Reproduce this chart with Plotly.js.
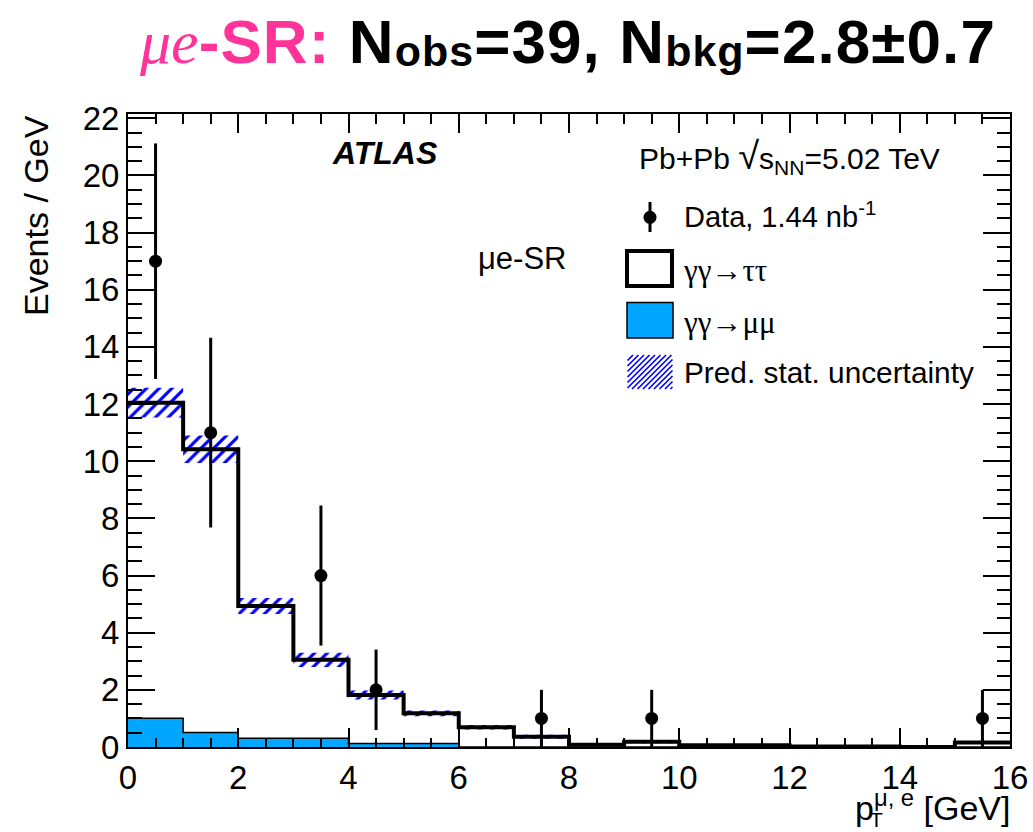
<!DOCTYPE html>
<html>
<head>
<meta charset="utf-8">
<script src="https://cdn.plot.ly/plotly-3.0.1.min.js"></script>
<style>
  html, body { margin: 0; padding: 0; background: #fff; }
  #chart { width: 1033px; height: 832px; }
</style>
</head>
<body>
<div id="chart"></div>
<script>
// ---- data ----
var binEdges = [0, 1, 2, 3, 4, 5, 6, 7, 8, 9, 10, 12, 14, 15, 16];
var tautau   = [11.04, 9.91, 4.62, 2.74, 1.70, 1.06, 0.69, 0.36, 0.08, 0.18, 0.06, 0.02, 0.0, 0.16];
var mumu     = [1.01, 0.51, 0.31, 0.31, 0.12, 0.12, 0.0, 0.0, 0.0, 0.0, 0.0, 0.0, 0.0, 0.0];
var predErr  = [0.52, 0.48, 0.28, 0.25, 0.16, 0.10, 0.08, 0.07, 0.03, 0.05, 0.03, 0.02, 0.0, 0.05];
var dataX    = [0.5, 1.5, 3.5, 4.5, 7.5, 9.5, 15.5];
var dataY    = [17, 11, 6, 2, 1, 1, 1];
var dataErr  = [4.12, 3.32, 2.45, 1.41, 1.0, 1.0, 1.0];
var xTickVals = [0, 2, 4, 6, 8, 10, 12, 14, 16];
var yTickVals = [0, 2, 4, 6, 8, 10, 12, 14, 16, 18, 20, 22];

// ---- derived ----
var nb = tautau.length;
var centers = [], widths = [], total = [], hatchBase = [], hatchH = [];
for (var i = 0; i < nb; i++) {
  centers.push((binEdges[i] + binEdges[i + 1]) / 2);
  widths.push(binEdges[i + 1] - binEdges[i]);
  total.push(tautau[i] + mumu[i]);
  hatchBase.push(total[i] - predErr[i]);
  hatchH.push(2 * predErr[i]);
}
var totalStep = total.concat([total[nb - 1]]);
var mumuStep = mumu.concat([mumu[nb - 1]]);

// ---- pixel helpers for decorations (plot area 128..1010 x 114..747) ----
var L = 128, R = 1010, T = 114, B = 747;
function px(x) { return (x - L) / (R - L); }
function py(y) { return (B - y) / (B - T); }

var FONT = 'Liberation Sans, Arial, Helvetica, sans-serif';
var SERIF = 'Liberation Serif, DejaVu Serif, serif';
var BLUE = '#00a6ff';
var HATCH = '#0000ff';
var PINK = '#ff3399';

var traces = [
  { // hatched prediction uncertainty
    type: 'bar', x: centers, y: hatchH, base: hatchBase, width: widths,
    marker: { color: 'rgba(0,0,0,0)', line: { width: 0 },
      pattern: { shape: '/', fgcolor: HATCH, fgopacity: 1, bgcolor: 'rgba(0,0,0,0)', size: 9, solidity: 0.35, fillmode: 'overlay' } },
    hoverinfo: 'skip', showlegend: false
  },
  { // gamma gamma -> mu mu
    type: 'scatter', mode: 'lines', x: binEdges, y: mumuStep,
    line: { shape: 'hv', color: '#000', width: 1.5 },
    fill: 'tozeroy', fillcolor: BLUE, showlegend: false
  },
  { // total prediction outline (tautau stacked on mumu)
    type: 'scatter', mode: 'lines', x: binEdges, y: totalStep,
    line: { shape: 'hv', color: '#000', width: 4 }, showlegend: false
  },
  { // data
    type: 'scatter', mode: 'markers', x: dataX, y: dataY,
    marker: { color: '#000', size: 13, symbol: 'circle' },
    error_y: { type: 'data', array: dataErr, symmetric: true, color: '#000', thickness: 3, width: 0 },
    showlegend: false
  }
];

// legend hatch lines
function hatchPath(x0, y0, x1, y1, step) {
  var d = '';
  var w = x1 - x0, h = y1 - y0;
  for (var s = -h; s < w; s += step) {
    var ax = x0 + s, ay = y1, bx = x0 + s + h, by = y0;
    if (ax < x0) { ay = y1 - (x0 - ax); ax = x0; }
    if (bx > x1) { by = y0 + (bx - x1); bx = x1; }
    d += 'M' + px(ax).toFixed(5) + ',' + py(ay).toFixed(5) + 'L' + px(bx).toFixed(5) + ',' + py(by).toFixed(5);
  }
  return d;
}

var shapes = [
  { type: 'line', xref: 'paper', yref: 'paper', x0: px(650), x1: px(650), y0: py(202), y1: py(232), line: { color: '#000', width: 3 } },
  { type: 'circle', xref: 'paper', yref: 'paper', x0: px(643.5), x1: px(656.5), y0: py(210.8), y1: py(223.8), fillcolor: '#000', line: { color: '#000', width: 0 } },
  { type: 'rect', xref: 'paper', yref: 'paper', x0: px(627), x1: px(672), y0: py(251), y1: py(286), fillcolor: '#fff', line: { color: '#000', width: 4 } },
  { type: 'rect', xref: 'paper', yref: 'paper', x0: px(627), x1: px(673), y0: py(302.5), y1: py(338), fillcolor: BLUE, line: { color: '#000', width: 1.5 } },
  { type: 'path', xref: 'paper', yref: 'paper', path: hatchPath(627.5, 355, 672.5, 389, 5.5), line: { color: HATCH, width: 1.6 } }
];

function ann(text, x, y, opts) {
  var a = { text: text, xref: 'paper', yref: 'paper', x: px(x), y: py(y), showarrow: false,
    xanchor: 'left', yanchor: 'middle', borderpad: 0, font: { family: FONT, size: 29, color: '#000' } };
  for (var k in opts) a[k] = opts[k];
  return a;
}

var annotations = [
  ann('<b><i>ATLAS</i></b>', 331, 153, { font: { family: FONT, size: 32, color: '#000' } }),
  ann('Pb+Pb <span style="font-size:38px">√</span>s<sub>NN</sub>=5.02 TeV', 638, 157, { font: { family: FONT, size: 30, color: '#000' } }),
  ann('μe-SR', 477, 258, { font: { family: FONT, size: 31, color: '#000' } }),
  ann('Data, 1.44 nb<sup>-1</sup>', 683, 215),
  ann('γγ→ττ', 682, 270, { font: { family: SERIF, size: 31, color: '#000' } }),
  ann('γγ→μμ', 682, 322, { font: { family: SERIF, size: 31, color: '#000' } }),
  ann('Pred. stat. uncertainty', 683, 372, { font: { family: FONT, size: 29.8, color: '#000' } }),
  ann('Events / GeV', 36, 216, { xanchor: 'center', yanchor: 'middle', textangle: -90, font: { family: FONT, size: 34, color: '#000' } }),
  ann('p<sup>μ, e</sup> [GeV]', 1011, 805, { xanchor: 'right', font: { family: FONT, size: 34, color: '#000' } }),
  ann('T', 876, 832, { xanchor: 'center', yanchor: 'bottom', font: { family: FONT, size: 21, color: '#000' } })
];

var axisCommon = {
  showgrid: false, zeroline: false, showline: true, linecolor: '#000', linewidth: 2,
  mirror: 'allticks', ticks: 'inside', tickcolor: '#000', tickwidth: 2,
  tickfont: { family: FONT, size: 33, color: '#000' }
};

var SUB = 'font-size:43px;baseline-shift:-3px;letter-spacing:1px';
var MAIN = 'letter-spacing:1.1px';
var layout = {
  width: 1033, height: 832,
  margin: { l: L, r: 1033 - R, t: T, b: 832 - B, pad: 0 },
  paper_bgcolor: '#fff', plot_bgcolor: '#fff',
  showlegend: false, barmode: 'overlay',
  title: {
    text: '<span style="font-family:\'Liberation Serif\',serif;font-style:italic;font-weight:normal;color:' + PINK + '">μe</span>' +
          '<span style="color:' + PINK + ';' + MAIN + '">-SR:</span><span style="' + MAIN + '"> N</span>' +
          '<span style="' + SUB + '">obs</span><span style="' + MAIN + '">=39, N</span>' +
          '<span style="' + SUB + '">bkg</span><span style="' + MAIN + '">=2.8±0.7</span>',
    x: 140 / 1033, xref: 'container', xanchor: 'left',
    y: 1 - 41 / 832, yref: 'container', yanchor: 'middle',
    font: { family: FONT, size: 62, color: '#000', weight: 'bold' }
  },
  xaxis: Object.assign({}, axisCommon, {
    range: [0, 16], tickmode: 'array', tickvals: xTickVals, ticklen: 19,
    minor: { dtick: 0.5, tick0: 0, ticklen: 9.5, tickwidth: 2, tickcolor: '#000', ticks: 'inside', showgrid: false }
  }),
  yaxis: Object.assign({}, axisCommon, {
    range: [0, 22.15], tickmode: 'array', tickvals: yTickVals, ticklen: 27,
    ticklabelstandoff: 0,
    minor: { dtick: 0.5, tick0: 0, ticklen: 13.5, tickwidth: 2, tickcolor: '#000', ticks: 'inside', showgrid: false }
  }),
  shapes: shapes,
  annotations: annotations
};

Plotly.newPlot('chart', traces, layout, { staticPlot: true, displayModeBar: false });
</script>
</body>
</html>
